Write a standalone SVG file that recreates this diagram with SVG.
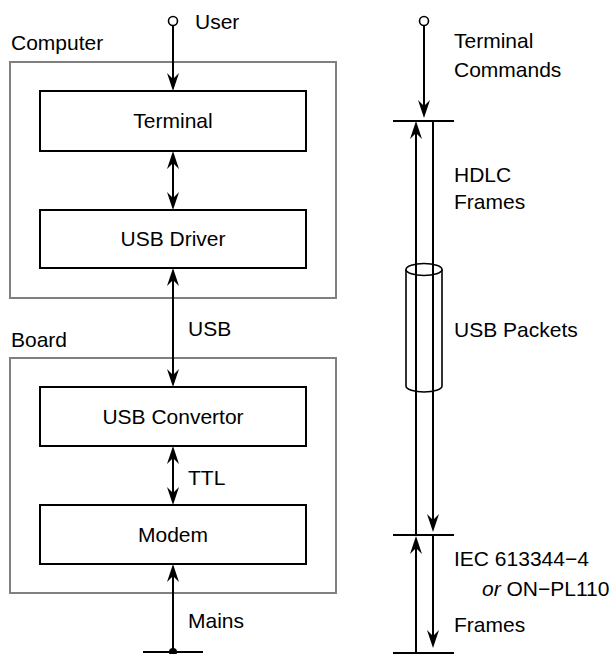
<svg xmlns="http://www.w3.org/2000/svg" width="611" height="654" viewBox="0 0 611 654">
<style>
text{font-family:"Liberation Sans",Arial,Helvetica,sans-serif;font-size:21px;fill:#000}
.c{text-anchor:middle}
.outer{fill:none;stroke:#808080;stroke-width:2}
.box{fill:#fff;stroke:#000;stroke-width:2}
.ln{fill:none;stroke:#000;stroke-width:2}
.term{fill:#fff;stroke:#000;stroke-width:1.6}
</style>
<defs>
<marker id="ah" markerUnits="userSpaceOnUse" markerWidth="30" markerHeight="30" refX="0" refY="0" orient="auto-start-reverse" overflow="visible" viewBox="-20 -10 30 20">
<path d="M4,0 L-14,-6 L-8,0 L-14,6 Z" fill="#000"/>
</marker>
</defs>
<rect width="611" height="654" fill="#fff"/>

<g id="computer">
<rect class="outer" x="10" y="62" width="326" height="236"/>
<text x="11" y="50">Computer</text>
</g>
<g id="board">
<rect class="outer" x="10" y="358" width="326" height="235"/>
<text x="11" y="347">Board</text>
</g>
<g id="terminal">
<rect class="box" x="40" y="91" width="266" height="60"/>
<text class="c" x="173" y="128">Terminal</text>
</g>
<g id="usbdriver">
<rect class="box" x="40" y="210" width="266" height="58"/>
<text class="c" x="173" y="246">USB Driver</text>
</g>
<g id="usbconvertor">
<rect class="box" x="40" y="387" width="266" height="59"/>
<text class="c" x="173" y="424">USB Convertor</text>
</g>
<g id="modem">
<rect class="box" x="40" y="505" width="266" height="59"/>
<text class="c" x="173" y="542">Modem</text>
</g>

<g id="connectors">
<circle class="term" cx="173" cy="21" r="4.5"/>
<line class="ln" x1="173" y1="25.5" x2="173" y2="87" marker-end="url(#ah)"/>
<line class="ln" x1="173" y1="155" x2="173" y2="206" marker-start="url(#ah)" marker-end="url(#ah)"/>
<line class="ln" x1="173" y1="272" x2="173" y2="383" marker-start="url(#ah)" marker-end="url(#ah)"/>
<line class="ln" x1="173" y1="450" x2="173" y2="501" marker-start="url(#ah)" marker-end="url(#ah)"/>
<line class="ln" x1="173" y1="652" x2="173" y2="568" marker-end="url(#ah)"/>
<line class="ln" x1="143" y1="652" x2="203" y2="652"/>
<circle cx="173" cy="652" r="4" fill="#000"/>

<circle class="term" cx="424" cy="21" r="4.5"/>
<line class="ln" x1="424" y1="25.5" x2="424" y2="114" marker-end="url(#ah)"/>
<line class="ln" x1="393" y1="121" x2="454" y2="121"/>
<line class="ln" x1="416" y1="535" x2="416" y2="125" marker-end="url(#ah)"/>
<line class="ln" x1="433" y1="121" x2="433" y2="528" marker-end="url(#ah)"/>
<line class="ln" x1="393" y1="535" x2="454" y2="535"/>
<line class="ln" x1="416" y1="653" x2="416" y2="540" marker-end="url(#ah)"/>
<line class="ln" x1="433" y1="535" x2="433" y2="644" marker-end="url(#ah)"/>
<line class="ln" x1="393" y1="653" x2="454" y2="653"/>
</g>

<g id="cylinder">
<ellipse cx="424" cy="269.5" rx="18" ry="6" fill="none" stroke="#000" stroke-width="1.6"/>
<path d="M406,269.5 V386 A18,6 0 0 0 442,386 V269.5" fill="none" stroke="#000" stroke-width="1.6"/>
</g>

<g id="labels">
<text x="195" y="29">User</text>
<text x="188" y="336">USB</text>
<text x="188" y="485">TTL</text>
<text x="188" y="628">Mains</text>
<text x="454" y="48">Terminal</text>
<text x="454" y="77">Commands</text>
<text x="454" y="182">HDLC</text>
<text x="454" y="209">Frames</text>
<text x="454" y="337">USB Packets</text>
<text x="454" y="566">IEC 613344−4</text>
<text x="482" y="596"><tspan font-style="italic">or</tspan> ON−PL110</text>
<text x="454" y="632">Frames</text>
</g>
</svg>
